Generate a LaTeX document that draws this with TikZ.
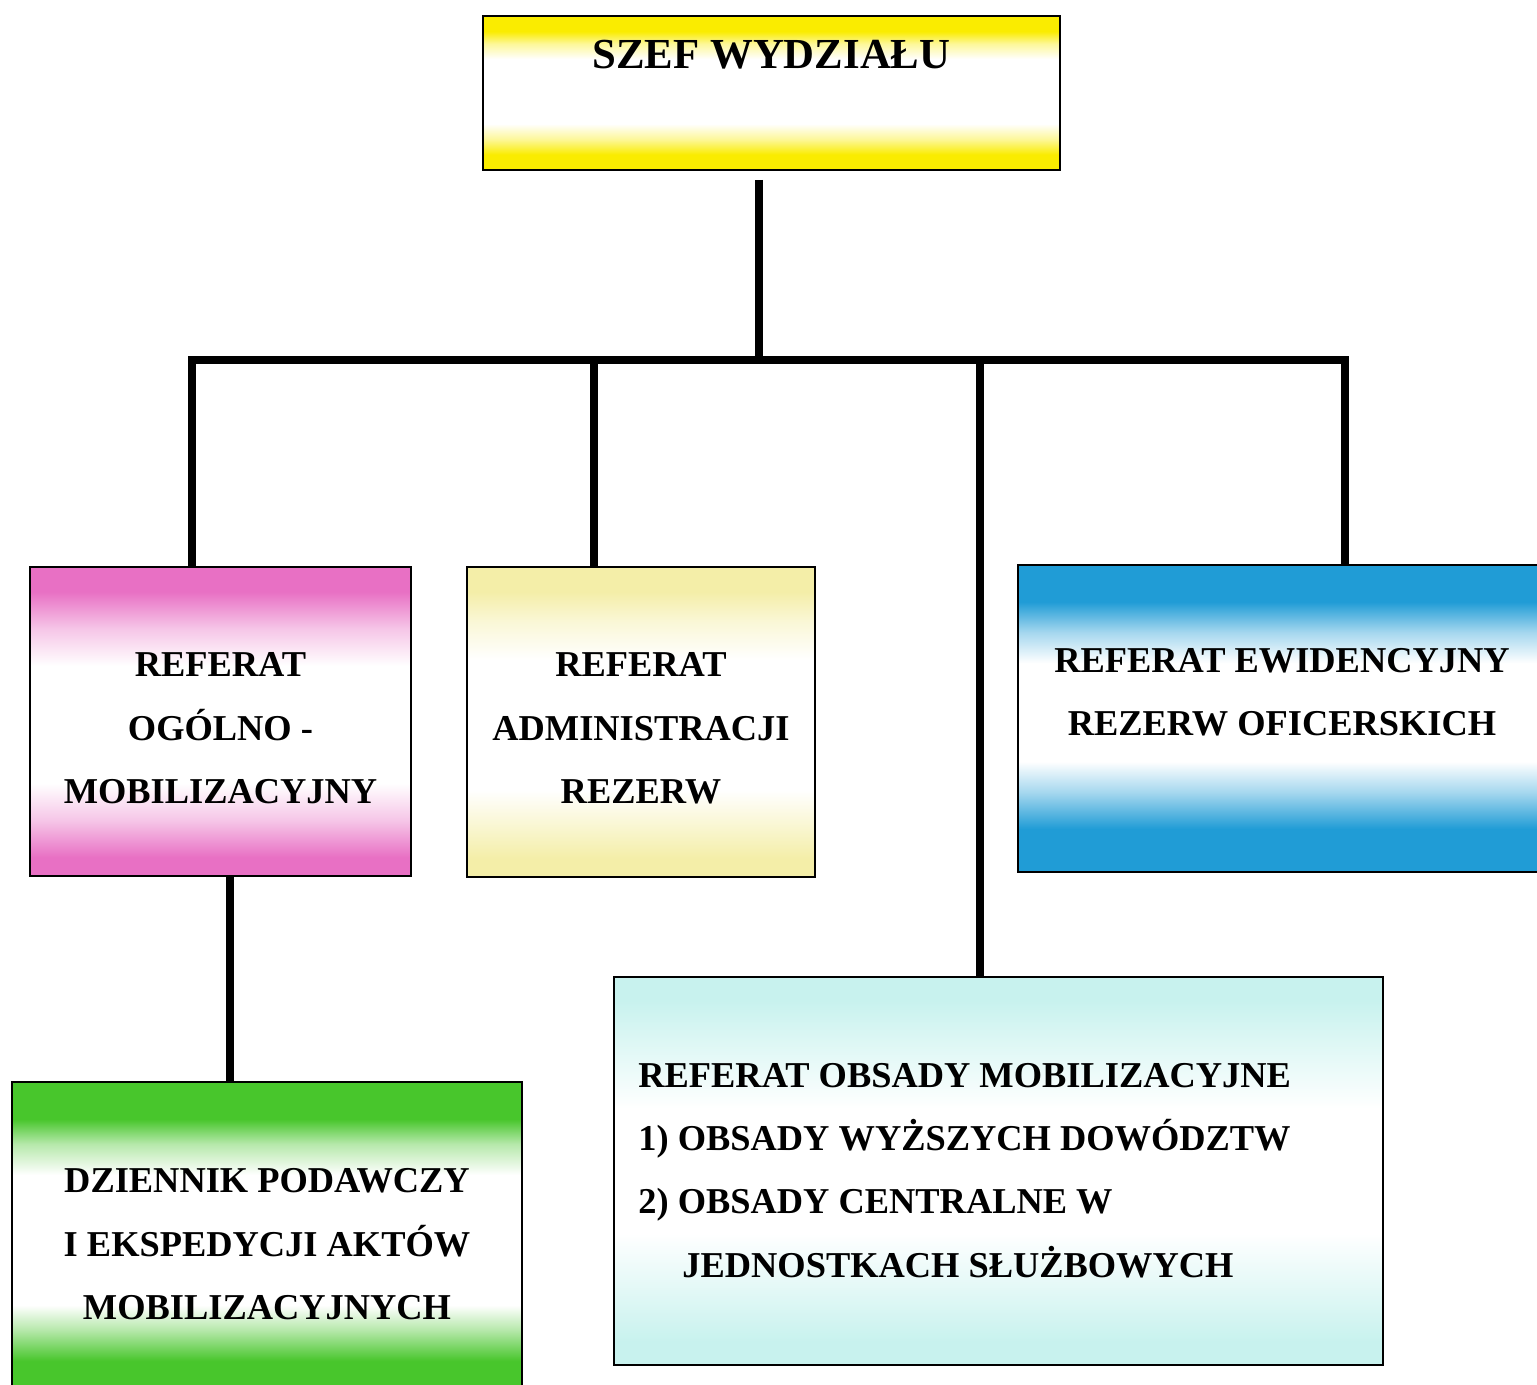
\documentclass[tikz,border=0pt]{standalone}
\usepackage{fontspec}
\setmainfont{Liberation Serif}
\definecolor{cY}{RGB}{250,236,0}
\definecolor{cPink}{RGB}{232,112,196}
\definecolor{cPale}{RGB}{244,238,168}
\definecolor{cBlue}{RGB}{32,156,214}
\definecolor{cGreen}{RGB}{72,198,44}
\definecolor{cCyan}{RGB}{200,242,238}
\colorlet{cYm}{cY!40!white}
\colorlet{cPinkm}{cPink!40!white}
\colorlet{cPalem}{cPale!45!white}
\colorlet{cBluem}{cBlue!40!white}
\colorlet{cGreenm}{cGreen!40!white}
\colorlet{cCyanm}{cCyan!50!white}
\pgfdeclareverticalshading{shY}{100bp}{color(0bp)=(cY); color(30bp)=(cY); color(35bp)=(cYm); color(40bp)=(white); color(61bp)=(white); color(66bp)=(cYm); color(70bp)=(cY); color(100bp)=(cY)}
\pgfdeclareverticalshading{shPink}{100bp}{color(0bp)=(cPink); color(28bp)=(cPink); color(34bp)=(cPinkm); color(40bp)=(white); color(59bp)=(white); color(65bp)=(cPinkm); color(71bp)=(cPink); color(100bp)=(cPink)}
\pgfdeclareverticalshading{shPale}{100bp}{color(0bp)=(cPale); color(28bp)=(cPale); color(34bp)=(cPalem); color(39bp)=(white); color(60bp)=(white); color(66bp)=(cPalem); color(71bp)=(cPale); color(100bp)=(cPale)}
\pgfdeclareverticalshading{shBlue}{100bp}{color(0bp)=(cBlue); color(32bp)=(cBlue); color(38bp)=(cBluem); color(43bp)=(white); color(59bp)=(white); color(64bp)=(cBluem); color(69bp)=(cBlue); color(100bp)=(cBlue)}
\pgfdeclareverticalshading{shGreen}{100bp}{color(0bp)=(cGreen); color(30bp)=(cGreen); color(35bp)=(cGreenm); color(39bp)=(white); color(60bp)=(white); color(65bp)=(cGreenm); color(69bp)=(cGreen); color(100bp)=(cGreen)}
\pgfdeclareverticalshading{shCyan}{100bp}{color(0bp)=(cCyan); color(28bp)=(cCyan); color(35bp)=(cCyanm); color(42bp)=(white); color(58bp)=(white); color(65bp)=(cCyanm); color(72bp)=(cCyan); color(100bp)=(cCyan)}
\begin{document}
\begin{tikzpicture}[x=0.5pt,y=-0.5pt,
  box/.style={draw=black, line width=1.1pt, inner sep=0pt},
  txt/.style={inner sep=0pt, align=center, font=\bfseries\fontsize{18.2}{31.7}\selectfont},
  ttl/.style={inner sep=0pt, font=\bfseries\fontsize{21.4}{26}\selectfont},
  conn/.style={draw=black, line width=4.4pt, line join=miter}]
\useasboundingbox (0,0) rectangle (1537,1385);
\clip (0,0) rectangle (1537,1385);
% boxes
\node[box, shading=shY, minimum width=288.5pt, minimum height=77pt] (szef) at (771.5,93) {};
\node[box, shading=shPink, minimum width=190.5pt, minimum height=154.5pt] (ogol) at (220.5,721.5) {};
\node[box, shading=shPale, minimum width=174pt, minimum height=155pt] (admin) at (641,722) {};
\node[box, shading=shBlue, minimum width=263.5pt, minimum height=153.5pt] (ewid) at (1281.5,718.5) {};
\node[box, shading=shGreen, minimum width=255pt, minimum height=155pt] (dzien) at (267,1237) {};
\node[box, shading=shCyan, minimum width=384.5pt, minimum height=194pt] (obsady) at (998.5,1171) {};
% texts
\node[ttl] (szefT) at (771.5,55) {SZEF WYDZIAŁU};
\node[txt] (ogolT) at (220.5,728.5) {REFERAT\\OGÓLNO -\\MOBILIZACYJNY};
\node[txt] (adminT) at (641,728.5) {REFERAT\\ADMINISTRACJI\\REZERW};
\node[txt] (ewidT) at (1282,692) {REFERAT EWIDENCYJNY\\REZERW OFICERSKICH};
\node[txt] (dzienT) at (267,1244.5) {DZIENNIK PODAWCZY\\I EKSPEDYCJI AKTÓW\\MOBILIZACYJNYCH};
\node[txt, align=left, anchor=west] (obsadyT) at (638,1170.5) {REFERAT OBSADY MOBILIZACYJNE\\1) OBSADY WYŻSZYCH DOWÓDZTW\\2) OBSADY CENTRALNE W\\\hspace*{22pt}JEDNOSTKACH SŁUŻBOWYCH};
% connector coordinates
\coordinate (stem) at (759,180);
\coordinate (j0) at (759,360);
\coordinate (j1) at (192,360);
\coordinate (j2) at (594,360);
\coordinate (j3) at (980,360);
\coordinate (j4) at (1345,360);
\coordinate (c1) at (230,1000);
% connectors
\draw[conn] (stem) -- (j0);
\draw[conn] (j1 |- ogol.north) -- (j1) -- (j4) -- (j4 |- ewid.north);
\draw[conn] (j2) -- (j2 |- admin.north);
\draw[conn] (j3) -- (j3 |- obsady.north);
\draw[conn] (c1 |- ogol.south) -- (c1 |- dzien.north);
\end{tikzpicture}
\end{document}
